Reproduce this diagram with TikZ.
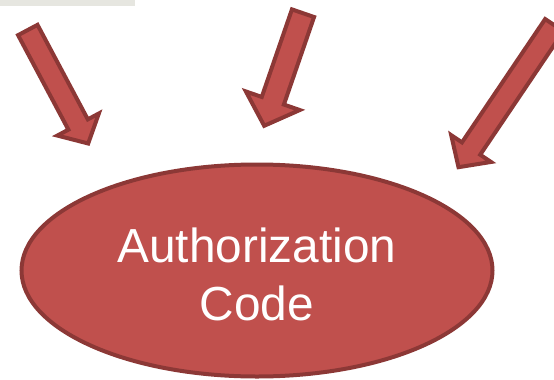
\documentclass[tikz,border=0pt]{standalone}
\usepackage{fontspec}
\setmainfont{Liberation Sans}
\usetikzlibrary{calc,shapes.geometric}
\definecolor{codefill}{RGB}{192,80,77}
\definecolor{codeline}{RGB}{140,56,54}
\definecolor{barfill}{RGB}{230,230,224}
\tikzset{
  blockarrow/.style={fill=codefill,draw=codeline,line width=4pt,line join=miter},
  codeoval/.style={ellipse,fill=codefill,draw=codeline,line width=4pt,text=white,
    align=center,inner sep=0pt,minimum width=471pt,minimum height=212pt,
    font=\fontsize{47.8}{58}\selectfont}
}
\newcommand{\bigarrow}[5]{
  \coordinate (#1-neck) at ($(#2)!#5!(#1)$);
  \draw[blockarrow] ($(#1)!#3!90:(#2)$) -- ($(#1-neck)!#3!90:(#2)$)
    -- ($(#1-neck)!#4!90:(#2)$) -- (#2) -- ($(#1-neck)!#4!-90:(#2)$)
    -- ($(#1-neck)!#3!-90:(#2)$) -- ($(#1)!#3!-90:(#2)$) -- cycle;
}
\begin{document}
\begin{tikzpicture}[x=1pt,y=-1pt]
  \useasboundingbox (0,0) rectangle (554,380);
  \fill[barfill] (0,0) rectangle (135,6);
  \coordinate (src1) at (27.8,30);
  \coordinate (tip1) at (88.2,143.5);
  \coordinate (src2) at (303,13.2);
  \coordinate (tip2) at (264.2,125.8);
  \coordinate (src3) at (554.3,25.2);
  \coordinate (tip3) at (458.5,167.2);
  \bigarrow{src1}{tip1}{11pt}{23.5pt}{21.5pt}
  \bigarrow{src2}{tip2}{11.7pt}{28.5pt}{26.5pt}
  \bigarrow{src3}{tip3}{11pt}{24pt}{22.5pt}
  \node[codeoval] (code) at (257,270.5) {\rule{0pt}{42.5pt}Authorization\\Code};
\end{tikzpicture}
\end{document}
